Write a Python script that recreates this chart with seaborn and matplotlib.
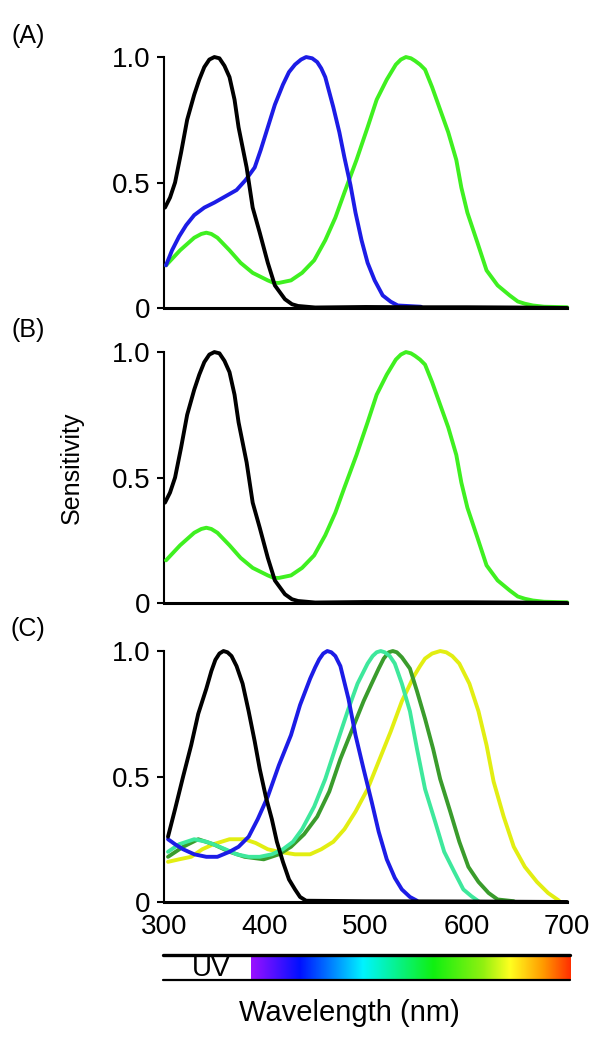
import numpy as np
import pandas as pd
import matplotlib
matplotlib.use("Agg")
import matplotlib.pyplot as plt
from matplotlib.colors import LinearSegmentedColormap
import seaborn as sns

# ---- data (wavelength nm, relative sensitivity) ----
uv_a_nm = [301, 306, 311, 317, 323, 330, 335, 340, 345, 350, 355, 360, 365, 370, 374, 378, 382,
           388, 395, 403, 410, 420, 427, 433, 450, 500, 550, 600, 650, 700]
uv_a_val = [0.40, 0.44, 0.50, 0.62, 0.75, 0.85, 0.91, 0.96, 0.99, 1.0, 0.995, 0.965, 0.92, 0.83,
            0.72, 0.64, 0.56, 0.40, 0.30, 0.18, 0.09, 0.035, 0.015, 0.008, 0.002, 0.004, 0.003,
            0.003, 0.002, 0.0]

blue_a_nm = [302, 308, 315, 322, 330, 340, 350, 361, 372, 381, 390, 396, 403, 410, 418, 424,
             430, 436, 441, 447, 452, 456, 460, 468, 474, 479, 485, 490, 496, 502, 509, 517,
             525, 532, 555]
blue_a_val = [0.17, 0.23, 0.285, 0.33, 0.37, 0.40, 0.42, 0.445, 0.47, 0.51, 0.56, 0.63, 0.72,
              0.81, 0.89, 0.94, 0.97, 0.99, 1.0, 0.995, 0.98, 0.955, 0.92, 0.80, 0.70, 0.60,
              0.49, 0.38, 0.27, 0.18, 0.11, 0.05, 0.025, 0.01, 0.005]

green_a_nm = [302, 316, 330, 337, 342, 347, 353, 365, 376, 388, 403, 409, 414, 420, 426, 437,
              449, 460, 470, 479, 491, 502, 511, 521, 530, 535, 540, 545, 549, 554, 559, 566,
              574, 582, 590, 595, 601, 611, 620, 631, 643, 651, 658, 666, 677, 700]
green_a_val = [0.17, 0.23, 0.28, 0.295, 0.30, 0.295, 0.28, 0.23, 0.18, 0.14, 0.11, 0.10, 0.10,
               0.105, 0.11, 0.14, 0.19, 0.27, 0.36, 0.46, 0.59, 0.72, 0.83, 0.91, 0.97, 0.99,
               1.0, 0.995, 0.985, 0.97, 0.95, 0.88, 0.79, 0.70, 0.59, 0.48, 0.38, 0.26, 0.15,
               0.09, 0.05, 0.026, 0.017, 0.01, 0.005, 0.003]

uv_c_nm = [304, 311, 319, 327, 334, 342, 347, 351, 355, 359, 363, 367, 372, 378, 384, 390, 395,
           401, 407, 412, 418, 424, 430, 435, 441, 500, 600, 700]
uv_c_val = [0.26, 0.37, 0.50, 0.625, 0.75, 0.85, 0.92, 0.965, 0.99, 1.0, 0.995, 0.98, 0.94,
            0.87, 0.76, 0.64, 0.53, 0.42, 0.33, 0.24, 0.16, 0.09, 0.05, 0.02, 0.005, 0.003,
            0.002, 0.0]

blue_c_nm = [304, 311, 319, 330, 342, 353, 365, 374, 384, 393, 403, 414, 426, 435, 445, 450,
             454, 458, 462, 466, 470, 475, 483, 490, 498, 506, 513, 521, 529, 536, 544, 551]
blue_c_val = [0.25, 0.23, 0.21, 0.19, 0.18, 0.18, 0.20, 0.22, 0.26, 0.33, 0.42, 0.545, 0.665,
              0.785, 0.89, 0.935, 0.967, 0.99, 1.0, 0.995, 0.98, 0.94, 0.81, 0.665, 0.53, 0.40,
              0.28, 0.17, 0.096, 0.05, 0.02, 0.005]

mint_c_nm = [304, 315, 330, 342, 349, 361, 372, 384, 395, 407, 418, 428, 437, 449, 460, 471,
             483, 492, 502, 507, 511, 515, 519, 524, 529, 536, 544, 551, 559, 569, 578, 588,
             597, 605, 612]
mint_c_val = [0.20, 0.23, 0.25, 0.24, 0.23, 0.21, 0.19, 0.18, 0.18, 0.19, 0.21, 0.24, 0.29,
              0.38, 0.49, 0.625, 0.77, 0.87, 0.95, 0.98, 0.995, 1.0, 0.995, 0.98, 0.95, 0.87,
              0.76, 0.61, 0.45, 0.32, 0.20, 0.12, 0.05, 0.023, 0.003]

dkgreen_c_nm = [304, 319, 334, 349, 365, 380, 399, 414, 426, 439, 452, 464, 475, 487, 498, 506,
                513, 518, 523, 527, 531, 536, 544, 551, 559, 567, 574, 584, 593, 602, 612, 622,
                631, 647]
dkgreen_c_val = [0.18, 0.22, 0.25, 0.23, 0.20, 0.18, 0.17, 0.19, 0.22, 0.27, 0.34, 0.44, 0.57,
                 0.69, 0.80, 0.87, 0.93, 0.97, 0.995, 1.0, 0.995, 0.975, 0.93, 0.84, 0.73, 0.61,
                 0.49, 0.36, 0.24, 0.14, 0.08, 0.036, 0.01, 0.003]

yellow_c_nm = [304, 315, 327, 338, 349, 365, 380, 391, 403, 414, 430, 445, 456, 468, 479, 490,
               502, 513, 525, 536, 548, 554, 559, 566, 574, 580, 586, 593, 603, 612, 620, 627,
               637, 647, 658, 670, 681, 692]
yellow_c_val = [0.16, 0.17, 0.18, 0.21, 0.23, 0.25, 0.25, 0.235, 0.21, 0.20, 0.19, 0.19, 0.21,
                0.24, 0.29, 0.36, 0.45, 0.56, 0.68, 0.80, 0.90, 0.94, 0.97, 0.99, 1.0, 0.995,
                0.98, 0.95, 0.87, 0.76, 0.625, 0.48, 0.34, 0.22, 0.14, 0.08, 0.036, 0.005]

x_ticks = [300, 400, 500, 600, 700]
y_ticks = [0, 0.5, 1.0]
y_tick_labels = ["0", "0.5", "1.0"]

spectrum_nm = [386, 434, 497, 567, 616, 643, 676, 703]
spectrum_colors = ["#9a10ff", "#0010ff", "#00f4ff", "#10f010", "#90f010", "#ffff20", "#ff9a00", "#ff3000"]

panels = {
    "(A)": [(green_a_nm, green_a_val, "#3ff020"), (blue_a_nm, blue_a_val, "#1c1ce6"),
            (uv_a_nm, uv_a_val, "black")],
    "(B)": [(green_a_nm, green_a_val, "#3ff020"), (uv_a_nm, uv_a_val, "black")],
    "(C)": [(yellow_c_nm, yellow_c_val, "#e2ee12"), (dkgreen_c_nm, dkgreen_c_val, "#3a9c2c"),
            (mint_c_nm, mint_c_val, "#3ee89c"), (blue_c_nm, blue_c_val, "#1c1ce6"),
            (uv_c_nm, uv_c_val, "black")],
}

sns.set_style("ticks")
plt.rcParams['font.family'] = ['Liberation Sans', 'DejaVu Sans']
for k in ['text.color', 'axes.labelcolor', 'xtick.color', 'ytick.color', 'axes.edgecolor']:
    plt.rcParams[k] = 'black'
FS = 20

fig = plt.figure(figsize=(6, 10.37), dpi=100)

axes_boxes = {"(A)": 0.703, "(B)": 0.4185, "(C)": 0.1302}
label_y = {"(A)": 0.965, "(B)": 0.682, "(C)": 0.393}

for name, curves in panels.items():
    ax = fig.add_axes([0.2733, axes_boxes[name], 0.672, 0.242])
    for nm, val, col in curves:
        df = pd.DataFrame({"nm": nm, "val": val})
        sns.lineplot(data=df, x="nm", y="val", color=col, lw=2.8, ax=ax,
                     estimator=None, sort=False, clip_on=False, zorder=3,
                     solid_joinstyle='round', solid_capstyle='round')
    ax.set_xlim(300, 700)
    ax.set_ylim(0, 1)
    sns.despine(ax=ax)
    ax.spines['left'].set_linewidth(1.5)
    ax.spines['bottom'].set_linewidth(2.2)
    ax.set_yticks(y_ticks)
    ax.set_yticklabels(y_tick_labels, fontsize=FS)
    ax.tick_params(axis='y', length=5, width=1.5, pad=5)
    ax.set_xticks(x_ticks)
    ax.set_xticks([700], minor=True)
    ax.tick_params(axis='x', which='major', length=0, pad=9, labelsize=FS)
    ax.tick_params(axis='x', which='minor', length=4, width=1.5)
    if name != "(C)":
        ax.set_xticklabels([])
    ax.set_xlabel("")
    ax.set_ylabel("")
    fig.text(0.047, label_y[name], name, fontsize=18, ha='center', va='center')

fig.text(0.12, 0.549, "Sensitivity", fontsize=18, rotation=90, ha='center', va='center')

# spectrum bar
bax = fig.add_axes([0.2717, 0.055, 0.678, 0.0241])
cmap = LinearSegmentedColormap.from_list(
    "spec", list(zip([(w - spectrum_nm[0]) / (spectrum_nm[-1] - spectrum_nm[0]) for w in spectrum_nm],
                     spectrum_colors)))
grad = np.linspace(0, 1, 512).reshape(1, -1)
bax.imshow(grad, aspect='auto', cmap=cmap, extent=(spectrum_nm[0], spectrum_nm[-1], 0, 1))
bax.set_xlim(299, 703)
bax.set_ylim(0, 1)
bax.axhline(1, color='black', lw=2.4, clip_on=False)
bax.axhline(0, color='black', lw=1.6, clip_on=False)
for s in bax.spines.values():
    s.set_visible(False)
bax.set_xticks([])
bax.set_yticks([])
bax.text(347, 0.45, "UV", fontsize=FS, ha='center', va='center')

fig.text(0.582, 0.023, "Wavelength (nm)", fontsize=21, ha='center', va='center')

fig.savefig("out.png", dpi=100)
